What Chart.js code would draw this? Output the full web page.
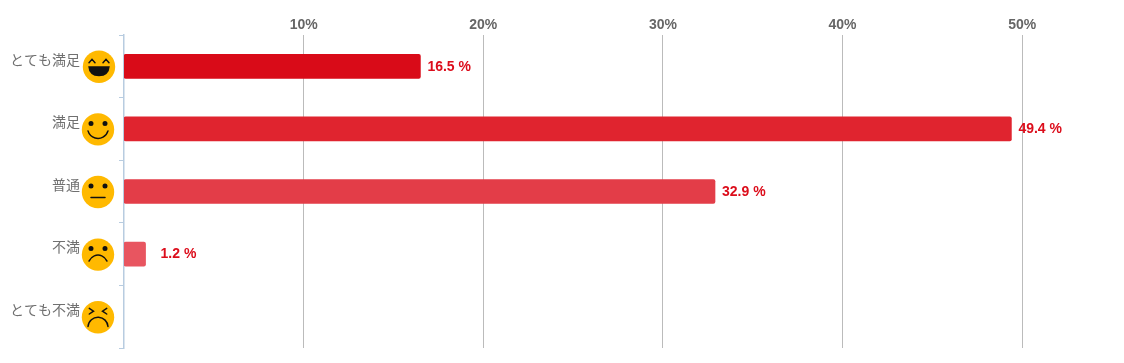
<!DOCTYPE html>
<html>
<head>
<meta charset="utf-8">
<script src="https://cdn.jsdelivr.net/npm/chart.js@4"></script>
<style>
html,body{margin:0;padding:0;background:#fff;overflow:hidden;}
canvas{display:block;}
</style>
</head>
<body>
<canvas id="chart" width="1124" height="363"></canvas>
<script>
var categories = ["とても満足", "満足", "普通", "不満", "とても不満"];
var values = [16.5, 49.4, 32.9, 1.2, null];
var barColors = ["#D90B18", "#E0242F", "#E33D48", "#E85560", "#EC6D76"];
var faces = ["laugh", "smile", "neutral", "sad", "angry"];
var xTicks = [10, 20, 30, 40, 50];

// value labels to the right of each bar
var valueLabels = {
    id: "valueLabels",
    afterDatasetsDraw: function(chart){
        var ctx = chart.ctx;
        var bars = chart.getDatasetMeta(0).data;
        ctx.save();
        ctx.font = "bold 14px 'Liberation Sans'";
        ctx.fillStyle = "#DC0D1B";
        ctx.textAlign = "left";
        ctx.textBaseline = "middle";
        for(var i=0;i<values.length;i++){
            if(values[i]==null) continue;
            var gap = values[i] < 5 ? 15 : 7;
            ctx.fillText(values[i].toFixed(1)+" %", bars[i].x+gap, bars[i].y+0.5);
        }
        ctx.restore();
    }
};

function stroke(ctx){
    ctx.strokeStyle = "#111";
    ctx.lineWidth = 1.5;
    ctx.lineCap = "round";
    ctx.stroke();
}

function eyes(ctx,cx,cy){
    ctx.fillStyle = "#111";
    ctx.beginPath();
    ctx.arc(cx-7,cy-6,2.5,0,Math.PI*2);
    ctx.arc(cx+7,cy-6,2.5,0,Math.PI*2);
    ctx.fill();
}

function drawFace(ctx,kind,cx,cy){
    ctx.fillStyle = "#FFB900";
    ctx.beginPath();
    ctx.arc(cx,cy,16.2,0,Math.PI*2);
    ctx.fill();
    if(kind=="laugh"){
        ctx.beginPath();
        ctx.moveTo(cx-10,cy-4); ctx.lineTo(cx-7,cy-7.5); ctx.lineTo(cx-4,cy-4);
        ctx.moveTo(cx+4,cy-4); ctx.lineTo(cx+7,cy-7.5); ctx.lineTo(cx+10,cy-4);
        stroke(ctx);
        ctx.fillStyle = "#111";
        ctx.beginPath();
        ctx.moveTo(cx-10.8,cy-0.5);
        ctx.lineTo(cx+10.8,cy-0.5);
        ctx.quadraticCurveTo(cx+10,cy+9.5,cx,cy+9.5);
        ctx.quadraticCurveTo(cx-10,cy+9.5,cx-10.8,cy-0.5);
        ctx.fill();
    }else if(kind=="smile"){
        eyes(ctx,cx,cy);
        ctx.beginPath();
        ctx.arc(cx,cy-1.4,10.4,0.09*Math.PI,0.91*Math.PI);
        stroke(ctx);
    }else if(kind=="neutral"){
        eyes(ctx,cx,cy);
        ctx.beginPath();
        ctx.moveTo(cx-7,cy+5.5); ctx.lineTo(cx+7,cy+5.5);
        stroke(ctx);
    }else if(kind=="sad"){
        eyes(ctx,cx,cy);
        ctx.beginPath();
        ctx.arc(cx,cy+10.25,9.75,1.126*Math.PI,1.874*Math.PI);
        stroke(ctx);
    }else{
        ctx.beginPath();
        ctx.moveTo(cx-8.7,cy-8.8); ctx.lineTo(cx-4.5,cy-6); ctx.lineTo(cx-8.7,cy-3.2);
        ctx.moveTo(cx+8.7,cy-8.8); ctx.lineTo(cx+4.5,cy-6); ctx.lineTo(cx+8.7,cy-3.2);
        stroke(ctx);
        ctx.beginPath();
        ctx.arc(cx,cy+10,10,1.02*Math.PI,1.98*Math.PI);
        stroke(ctx);
    }
}

// smiley next to each category label
var facePlugin = {
    id: "facePlugin",
    afterDraw: function(chart){
        var y = chart.scales.y;
        for(var i=0;i<faces.length;i++){
            drawFace(chart.ctx,faces[i],i==0 ? y.left+99 : y.left+98,y.getPixelForTick(i)+0.5);
        }
    }
};

new Chart(document.getElementById("chart"), {
    type: 'bar',
    data: {
        labels: categories,
        datasets: [{
            data: values,
            backgroundColor: barColors,
            barThickness: 24,
            borderRadius: 2,
            borderSkipped: false
        }]
    },
    plugins: [valueLabels, facePlugin],
    options: {
        indexAxis: 'y',
        responsive: false,
        animation: false,
        layout: { padding: { top: 0, right: 12, bottom: 15, left: 0 } },
        plugins: { legend: { display: false }, tooltip: { enabled: false } },
        scales: {
            x: {
                position: 'top',
                min: 0,
                max: 55,
                afterFit: function(s){
                    s.height = 35;
                    s.paddingLeft = 0;
                    s.paddingRight = 0;
                },
                afterBuildTicks: function(s){
                    s.ticks = xTicks.map(function(v){ return { value: v }; });
                },
                border: { display: false },
                grid: { color: "#BBBBBB", lineWidth: 1, drawTicks: false },
                ticks: {
                    padding: 1,
                    maxRotation: 0,
                    color: "#666666",
                    font: { family: "'Liberation Sans'", size: 14, weight: "bold" },
                    callback: function(v){ return v+"%"; }
                }
            },
            y: {
                afterFit: function(s){
                    s.width = 124;
                    s.paddingTop = 0;
                    s.paddingBottom = 0;
                },
                border: { color: "#B8CCE0", width: 1.5 },
                grid: {
                    offset: true,
                    drawOnChartArea: false,
                    tickColor: "#B8CCE0",
                    tickLength: 5
                },
                ticks: {
                    padding: 39,
                    labelOffset: -7,
                    color: "#707070",
                    font: { family: "'Noto Sans CJK JP'", size: 14 }
                }
            }
        }
    }
});
</script>
</body>
</html>
